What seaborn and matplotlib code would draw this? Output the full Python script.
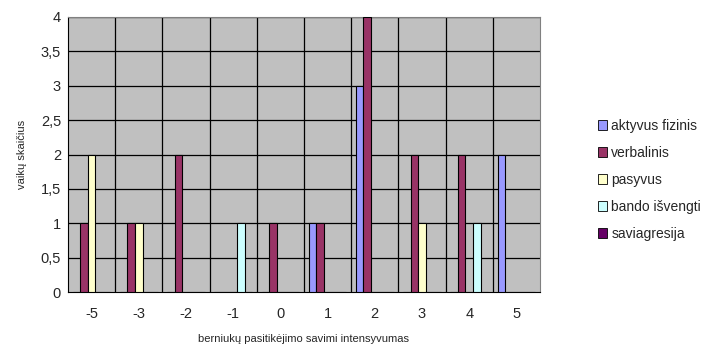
import numpy as np
import pandas as pd
import matplotlib
matplotlib.use("Agg")
import matplotlib.pyplot as plt
import seaborn as sns
from matplotlib.ticker import FixedLocator, FuncFormatter

categories = ["-5", "-3", "-2", "-1", "0", "1", "2", "3", "4", "5"]
aktyvus_fizinis = [0, 0, 0, 0, 0, 1, 3, 0, 0, 2]
verbalinis = [1, 1, 2, 0, 1, 1, 4, 2, 2, 0]
pasyvus = [2, 1, 0, 0, 0, 0, 0, 1, 0, 0]
bando_isvengti = [0, 0, 0, 1, 0, 0, 0, 0, 1, 0]
saviagresija = [0, 0, 0, 0, 0, 0, 0, 0, 0, 0]

series = {
    "aktyvus fizinis": aktyvus_fizinis,
    "verbalinis": verbalinis,
    "pasyvus": pasyvus,
    "bando išvengti": bando_isvengti,
    "saviagresija": saviagresija,
}
colors = ["#9999FF", "#993366", "#FFFFCC", "#CCFFFF", "#660066"]

df = pd.DataFrame(
    [(c, name, v) for name, vals in series.items() for c, v in zip(categories, vals)],
    columns=["intensyvumas", "tipas", "skaicius"],
)

sns.set_style("white")
plt.rcParams["font.family"] = ["Liberation Sans", "DejaVu Sans"]

fig = plt.figure(figsize=(7.17, 3.46), dpi=100)
ax = fig.add_axes([68 / 717, 54 / 346, (540 - 68) / 717, (292 - 17) / 346])
ax.set_facecolor("#C0C0C0")

sns.barplot(data=df, x="intensyvumas", y="skaicius", hue="tipas",
            order=categories, hue_order=list(series.keys()),
            palette=colors, width=0.8, edgecolor="black", linewidth=0.8,
            saturation=1, ax=ax, zorder=3)

ax.set_ylim(0, 4)
ax.set_xlim(-0.5, len(categories) - 0.5)
ax.set_yticks(np.arange(0, 4.01, 0.5))
ax.yaxis.set_major_formatter(FuncFormatter(lambda v, p: f"{v:g}".replace(".", ",")))
ax.xaxis.set_minor_locator(FixedLocator(np.arange(-0.5, len(categories), 1)))
ax.grid(False)
for y in np.arange(0.5, 4.01, 0.5):
    ax.axhline(y, color="black", lw=0.9, zorder=1)
for x in np.arange(0.5, len(categories) - 0.5, 1):
    ax.axvline(x, color="black", lw=0.9, zorder=1)

ax.tick_params(axis="x", which="major", length=0, pad=11, labelsize=10.5)
ax.tick_params(axis="x", which="minor", length=4, width=0.8, color="black", direction="out")
ax.tick_params(axis="y", length=4, width=0.8, color="black", direction="out", labelsize=10.5, pad=1)

for s in ["left", "bottom"]:
    ax.spines[s].set_color("black")
    ax.spines[s].set_linewidth(0.8)
for s in ["top", "right"]:
    ax.spines[s].set_color("#808080")
    ax.spines[s].set_linewidth(0.8)

ax.set_xlabel("berniukų pasitikėjimo savimi intensyvumas", fontsize=8, labelpad=9)
ax.set_ylabel("vaikų skaičius", fontsize=8, labelpad=10)

ax.legend(loc="center left", bbox_to_anchor=(585 / 717, 0.48), bbox_transform=fig.transFigure,
          frameon=False, fontsize=10, handlelength=0.7, handleheight=0.7,
          handletextpad=0.3, labelspacing=0.93)
leg = ax.get_legend()
for h in leg.legend_handles:
    h.set_edgecolor("black")
    h.set_linewidth(0.6)

fig.savefig("out.png", dpi=100)
